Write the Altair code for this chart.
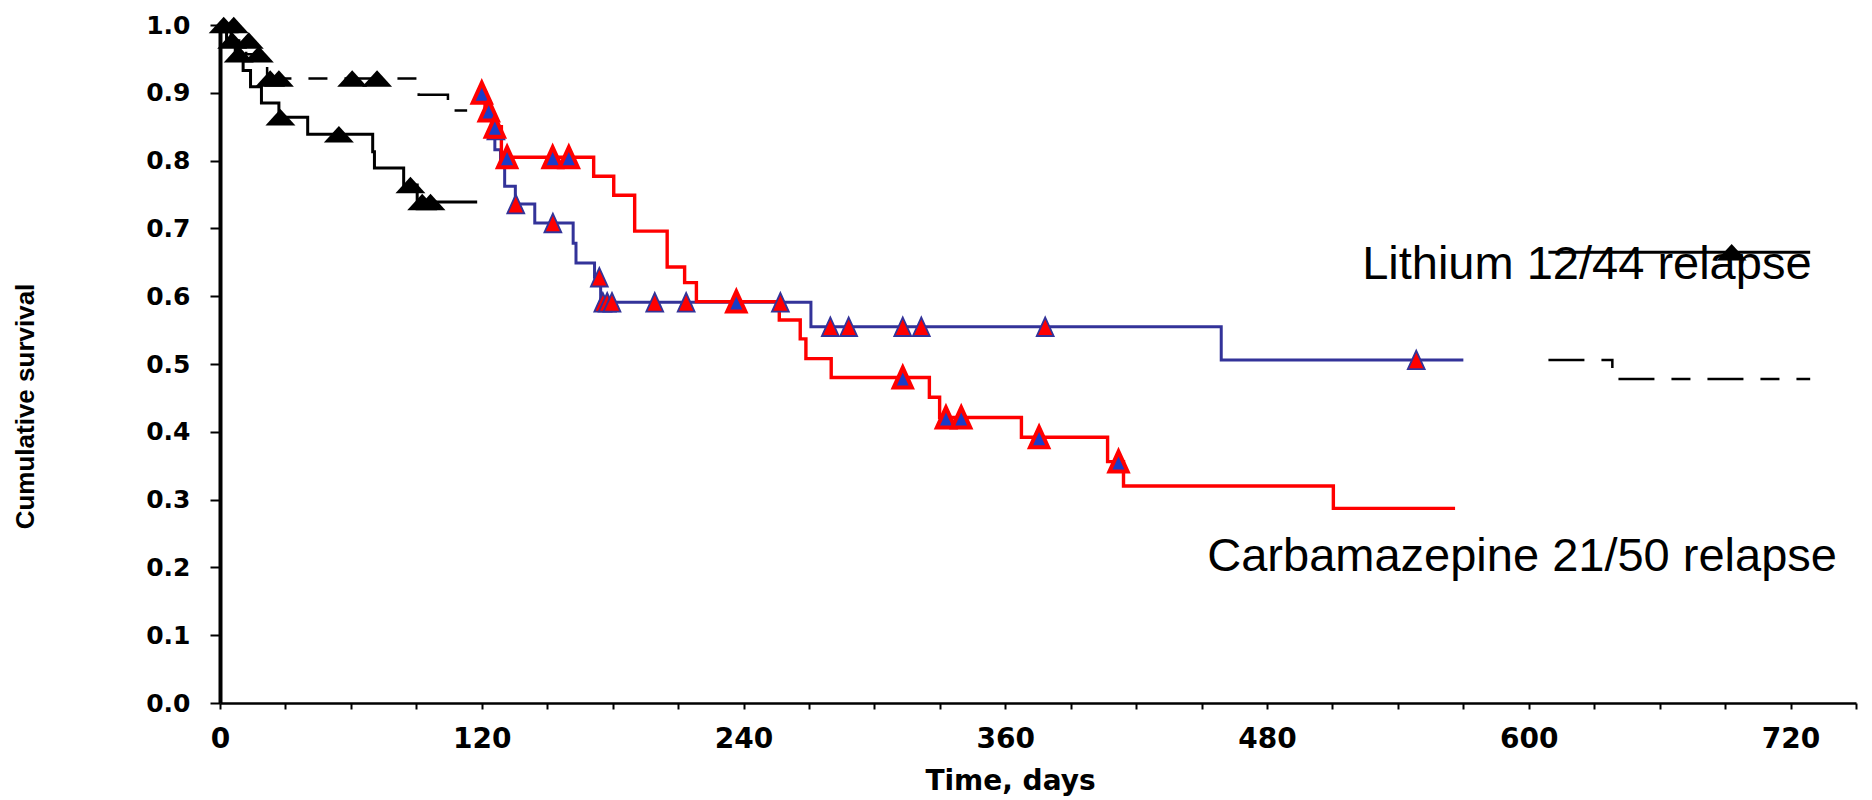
import altair as alt
import pandas as pd

# ---- Kaplan–Meier step curves (day, cumulative survival) ----
# Lithium (navy curve)
lithium_days = [120, 122, 125, 126, 128.6, 130.5, 135.4, 144.3, 161.9, 163.2, 171.7, 174.5, 270.9, 459, 570]
lithium_surv = [0.900, 0.872, 0.845, 0.816, 0.800, 0.762, 0.736, 0.708, 0.678, 0.649, 0.628, 0.591, 0.555, 0.506, 0.506]
lithium_cens_days = [123.5, 126.5, 135.6, 152.6, 173.9, 175.5, 177.5, 179.7, 199.3, 213.7, 256.9,
                     279.8, 288.2, 313.0, 321.5, 378.3, 548.4]
lithium_cens_surv = [0.872, 0.845, 0.736, 0.708, 0.628, 0.591, 0.591, 0.591, 0.591, 0.591, 0.591,
                     0.555, 0.555, 0.555, 0.555, 0.555, 0.506]

# Carbamazepine (red curve)
carba_days = [120, 121.5, 124.5, 129, 171.3, 180.5, 190.1, 205, 213, 218.4, 256.4, 266, 268.6,
              280.2, 325.2, 329.9, 367.4, 406.9, 414.2, 510.4, 566.2]
carba_surv = [0.900, 0.874, 0.850, 0.805, 0.777, 0.749, 0.696, 0.643, 0.620, 0.592, 0.565, 0.537, 0.508,
              0.480, 0.451, 0.421, 0.392, 0.356, 0.320, 0.287, 0.287]
carba_cens_days = [120, 123.2, 126, 131.6, 152.5, 159.9, 236.7, 313, 332.8, 339.8, 375.5, 411.9]
carba_cens_surv = [0.900, 0.874, 0.850, 0.805, 0.805, 0.805, 0.592, 0.480, 0.421, 0.421, 0.392, 0.356]

# Black solid curve (two visible pieces)
solid_a_days = [0, 3, 7, 10.6, 14, 19, 27, 40.2, 70, 70.8, 84.2, 90.4, 117.9]
solid_a_surv = [1.000, 0.977, 0.955, 0.933, 0.909, 0.885, 0.864, 0.839, 0.813, 0.789, 0.764, 0.739, 0.739]
solid_b_days = [609, 729]
solid_b_surv = [0.665, 0.665]
solid_cens_days = [27.7, 54.5, 87.3, 92.7, 96.5, 693]
solid_cens_surv = [0.864, 0.839, 0.764, 0.739, 0.739, 0.665]

# Black dashed curve (two visible pieces)
dashed_a_days = [0, 5, 12, 21.6, 91.1, 104.5, 113.3]
dashed_a_surv = [1.000, 0.977, 0.957, 0.921, 0.897, 0.874, 0.874]
dashed_b_days = [609, 638.3, 729]
dashed_b_surv = [0.506, 0.478, 0.478]
dashed_cens_days = [1.7, 6.3, 5.6, 13.2, 8.6, 17.8, 23, 27, 60.6, 72]
dashed_cens_surv = [1.000, 1.000, 0.977, 0.977, 0.957, 0.957, 0.921, 0.921, 0.921, 0.921]

x_ticks = [0, 30, 60, 90, 120, 150, 180, 210, 240, 270, 300, 330, 360, 390, 420, 450, 480,
           510, 540, 570, 600, 630, 660, 690, 720, 750]
y_ticks = [0.0, 0.1, 0.2, 0.3, 0.4, 0.5, 0.6, 0.7, 0.8, 0.9, 1.0]


def frame(days, surv, piece=0):
    return pd.DataFrame({"day": days, "surv": surv, "piece": piece})


x_axis = alt.Axis(
    values=x_ticks,
    labelExpr="datum.value % 120 === 0 ? datum.label : ''",
    format="d",
    grid=False,
    domainColor="black", domainWidth=2.5,
    tickColor="black", tickWidth=2, tickSize=6,
    labelFont="DejaVu Sans", labelFontWeight="bold", labelFontSize=28, labelColor="black",
    labelPadding=16, labelFlush=False, labelOverlap=False,
    titleFont="DejaVu Sans", titleFontWeight="bold", titleFontSize=28, titleColor="black",
    titleX=790, titleY=78, titleAlign="center", titleBaseline="middle",
)
y_axis = alt.Axis(
    values=y_ticks,
    format=".1f",
    grid=False,
    domainColor="black", domainWidth=4,
    tickColor="black", tickWidth=2, tickSize=10,
    labelFont="DejaVu Sans", labelFontWeight="bold", labelFontSize=25, labelColor="black",
    labelPadding=20, labelOverlap=False,
    titleFont="Liberation Sans Narrow, Liberation Sans", titleFontWeight="bold", titleFontSize=26,
    titleColor="black", titleAngle=270, titleX=-195, titleY=381,
    titleAlign="center", titleBaseline="middle",
)

x_enc = alt.X("day:Q", scale=alt.Scale(domain=[0, 750], nice=False), axis=x_axis, title="Time, days")
y_enc = alt.Y("surv:Q", scale=alt.Scale(domain=[0, 1], nice=False), axis=y_axis, title="Cumulative survival")

black_tri = "M-1,0.55L1,0.55L0,-0.55Z"
tall_tri = "M-1,1.1L1,1.1L0,-1.1Z"


def step_line(df, color, width, dash=None):
    kw = dict(interpolate="step-after", color=color, strokeWidth=width, clip=False)
    if dash:
        kw["strokeDash"] = dash
    return alt.Chart(df).mark_line(**kw).encode(x=x_enc, y=y_enc, detail="piece:N")


solid_df = pd.concat([frame(solid_a_days, solid_a_surv, 0), frame(solid_b_days, solid_b_surv, 1)])
dashed_df = pd.concat([frame(dashed_a_days, dashed_a_surv, 0), frame(dashed_b_days, dashed_b_surv, 1)])

black_solid = step_line(solid_df, "black", 3)
black_dashed = step_line(dashed_df, "black", 2.5, [36, 17, 19, 17])
lith_line = step_line(frame(lithium_days, lithium_surv), "#333399", 3)
carb_line = step_line(frame(carba_days, carba_surv), "#ff0000", 3.4)

black_marks = alt.Chart(
    pd.concat([frame(solid_cens_days, solid_cens_surv), frame(dashed_cens_days, dashed_cens_surv)])
).mark_point(shape=black_tri, size=900, filled=True, color="black", opacity=1, strokeWidth=0).encode(
    x=x_enc, y=y_enc
)
lith_marks = alt.Chart(frame(lithium_cens_days, lithium_cens_surv)).mark_point(
    shape=tall_tri, size=285, filled=True, fill="#ff0000", stroke="#333399", strokeWidth=1.8, opacity=1
).encode(x=x_enc, y=y_enc)
carb_marks = alt.Chart(frame(carba_cens_days, carba_cens_surv)).mark_point(
    shape=tall_tri, size=330, filled=True, fill="#1a3cc8", stroke="#ff0000", strokeWidth=4, opacity=1
).encode(x=x_enc, y=y_enc)

label_style = dict(font="Liberation Sans", fontSize=47, color="black", align="left", baseline="alphabetic")
lith_label = alt.Chart().mark_text(**label_style).encode(
    x=alt.datum(523.6), y=alt.datum(0.625), text=alt.value("Lithium 12/44 relapse")
)
carb_label = alt.Chart().mark_text(**label_style).encode(
    x=alt.datum(452.6), y=alt.datum(0.195), text=alt.value("Carbamazepine 21/50 relapse")
)

chart = alt.layer(
    black_dashed, black_solid, lith_line, carb_line,
    black_marks, lith_marks, carb_marks, lith_label, carb_label,
).properties(
    width=1636, height=678,
    autosize=alt.AutoSizeParams(type="none"),
    padding={"left": 220, "top": 25, "right": 16, "bottom": 97},
    background="white",
).configure_view(stroke=None)

chart.save("out.html", embed_options={"renderer": "svg", "actions": False})
